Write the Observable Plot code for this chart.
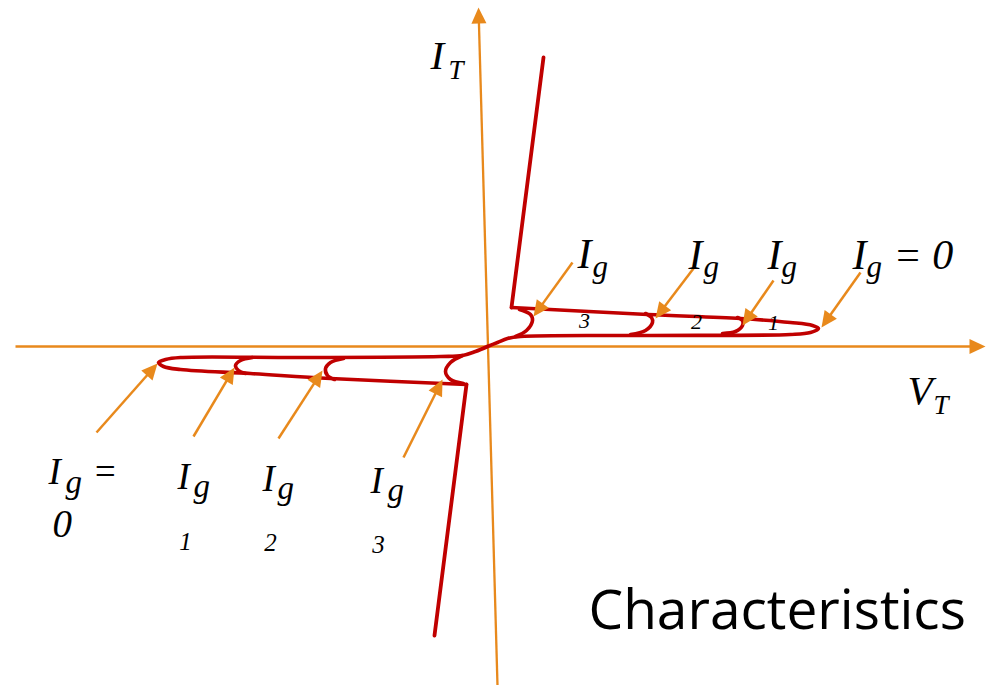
<!DOCTYPE html>
<html><head><meta charset="utf-8">
<script src="https://cdn.jsdelivr.net/npm/d3@7"></script>
<script src="https://cdn.jsdelivr.net/npm/@observablehq/plot@0.6"></script>
<style>body{margin:0;background:#fff}</style>
</head><body><div id="chart"></div>
<script>
// ---- Data (V_T, I_T in arbitrary units, origin at the axes crossing) ----
// forward blocking loop for Ig = 0 (origin -> lower edge -> tip -> upper edge -> latch corner)
const fwdLoop = [[0,0],[10,4],[20,8],[33,10],[163,11],[303,12],[323,14],[331,18],[325,21],[303,24],[253,28],[160,32],[24,39]];
// forward on-state
const fwdOn = [[24,39],[56,289]];
// forward gate-current switching arcs
const fwdIg3 = [[32,37],[43,32],[45,26],[39,16],[28,10]];
const fwdIg2 = [[158,33],[164,29],[165,24],[158,16],[143,12]];
const fwdIg1 = [[250,29],[255,26],[255,21],[248,15],[235,13]];
// reverse blocking loop for Ig = 0
const revLoop = [[0,0],[-12,-5],[-25,-9],[-47,-10],[-187,-11],[-307,-11],[-322,-13],[-329,-16],[-324,-20],[-307,-23],[-237,-27],[-157,-32],[-21,-38]];
// reverse on-state
const revOn = [[-21,-38],[-53,-289]];
// reverse gate-current switching arcs
const revIg3 = [[-25,-9],[-37,-16],[-42,-25],[-37,-33],[-24,-37]];
const revIg2 = [[-144,-12],[-157,-16],[-162,-22],[-160,-29],[-153,-33]];
const revIg1 = [[-235,-11],[-247,-14],[-252,-19],[-249,-24],[-242,-27]];

// axes (tail, tip)
const axes = [
  ["V_T", [-472,0], [498,0]],
  ["I_T", [10,-339], [-9,339]]
];
// pointer arrows (label, tail, tip)
const pointers = [
  ["Ig3+", [85,84], [46,30]],
  ["Ig2+", [206,78], [168,28]],
  ["Ig1+", [286,66], [255,21]],
  ["Ig0+", [373,74], [334,19]],
  ["Ig0-", [-391,-86], [-330,-17]],
  ["Ig1-", [-294,-90], [-253,-21]],
  ["Ig2-", [-209,-92], [-165,-24]],
  ["Ig3-", [-84,-111], [-45,-33]]
];

// labels: [text, V, I]
const bigForward = [["I",90,79],["I",201,78],["I",280,78],["I",365,78],["= 0",406,78]];
const subForward = [["g",105,70],["g",216,70],["g",294,70],["g",379,70]];
const numForward = [["3",97,19],["2",209,18],["1",286,17]];
const bigReverse = [["I",-439,-137],["=",-395,-137],["I",-310,-142],["I",-225,-144],["I",-117,-146]];
const zeroReverse = [["0",-435,-190]];
const subReverse = [["g",-422,-146],["g",-294,-150],["g",-210,-152],["g",-100,-154]];
const numReverse = [["1",-302,-203],["2",-217,-204],["3",-109,-206]];
const axisMain = [["I",-57,278],["V",420,-57]];
const axisSub = [["T",-39,268],["T",446,-67]];
const title = [["Characteristics",101,-282]];

// ---- Build tables ----
const red = "#C00000", orange = "#E8891C";
const curves = [];
[["fwdLoop",fwdLoop],["fwdIg3",fwdIg3],["fwdIg2",fwdIg2],["fwdIg1",fwdIg1],
 ["revLoop",revLoop],["revIg3",revIg3],["revIg2",revIg2],["revIg1",revIg1]]
  .forEach(([seg,pts]) => pts.forEach(([v,i]) => curves.push({seg,v,i})));
const straight = [];
[["fwdOn",fwdOn],["revOn",revOn]].forEach(([seg,pts]) => pts.forEach(([v,i]) => straight.push({seg,v,i})));

function arrowRows(list, back) {
  return list.map(([label,[tv,ti],[hv,hi]]) => {
    const dv = hv - tv, di = hi - ti, len = Math.hypot(dv, di);
    return {label, x1: tv, y1: ti, x2: hv - dv/len*back, y2: hi - di/len*back, hx: hv, hy: hi,
            rot: Math.atan2(dv, di) * 180 / Math.PI};
  });
}
const axisRows = arrowRows(axes, 10);
const ptrRows = arrowRows(pointers, 10);
const head = {draw(ctx){ ctx.moveTo(0,0); ctx.lineTo(-7.5,16); ctx.lineTo(7.5,16); ctx.closePath(); }};
const toRows = a => a.map(([t,v,i]) => ({t,v,i}));

const serif = {fontFamily: "Liberation Serif", fontStyle: "italic", textAnchor: "start", lineAnchor: "bottom", fill: "black"};

const chart = Plot.plot({
  width: 986, height: 685, margin: 0,
  x: {domain: [-487, 499], range: [0, 986], axis: null},
  y: {domain: [-339, 346], range: [685, 0], axis: null},
  style: {background: "#fff", overflow: "visible"},
  marks: [
    Plot.link(axisRows, {x1: "x1", y1: "y1", x2: "x2", y2: "y2", stroke: orange, strokeWidth: 2.3}),
    Plot.dot(axisRows, {x: "hx", y: "hy", rotate: "rot", symbol: head, fill: orange, stroke: "none", r: 5}),
    Plot.line(curves, {x: "v", y: "i", z: "seg", curve: "catmull-rom", stroke: red, strokeWidth: 3.6, strokeLinejoin: "round"}),
    Plot.line(straight, {x: "v", y: "i", z: "seg", stroke: red, strokeWidth: 3.8}),
    Plot.link(ptrRows, {x1: "x1", y1: "y1", x2: "x2", y2: "y2", stroke: orange, strokeWidth: 2.5}),
    Plot.dot(ptrRows, {x: "hx", y: "hy", rotate: "rot", symbol: head, fill: orange, stroke: "none", r: 5}),
    Plot.text(toRows(bigForward), {x: "v", y: "i", text: "t", fontSize: 42, ...serif}),
    Plot.text(toRows(subForward), {x: "v", y: "i", text: "t", fontSize: 31, ...serif}),
    Plot.text(toRows(numForward), {x: "v", y: "i", text: "t", fontSize: 22, ...serif, textAnchor: "middle"}),
    Plot.text(toRows(bigReverse), {x: "v", y: "i", text: "t", fontSize: 37, ...serif}),
    Plot.text(toRows(zeroReverse), {x: "v", y: "i", text: "t", fontSize: 39, ...serif}),
    Plot.text(toRows(subReverse), {x: "v", y: "i", text: "t", fontSize: 33, ...serif}),
    Plot.text(toRows(numReverse), {x: "v", y: "i", text: "t", fontSize: 25, ...serif, textAnchor: "middle"}),
    Plot.text(toRows(axisMain), {x: "v", y: "i", text: "t", fontSize: 41, ...serif}),
    Plot.text(toRows(axisSub), {x: "v", y: "i", text: "t", fontSize: 27, ...serif}),
    Plot.text(toRows(title), {x: "v", y: "i", text: "t", fontSize: 55, fontFamily: "Open Sans", textAnchor: "start", lineAnchor: "bottom", fill: "black"})
  ]
});
document.getElementById("chart").appendChild(chart);
</script>
</body></html>
